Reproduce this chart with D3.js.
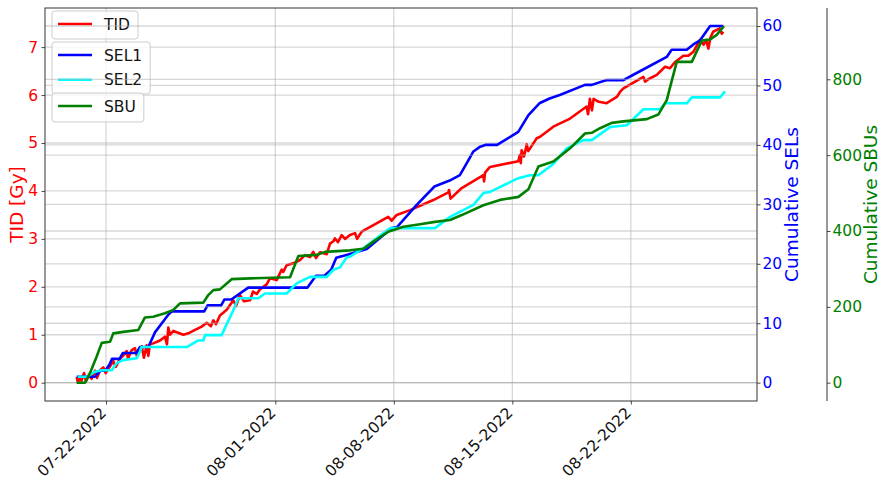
<!DOCTYPE html>
<html>
<head>
<meta charset="utf-8">
<script src="https://cdn.jsdelivr.net/npm/d3@7"></script>
<style>
  body { margin: 0; background: #fff; }
  svg { display: block; font-family: "DejaVu Sans", sans-serif; }
  .domain { display: none; }
  .tick line { stroke: #333; stroke-width: 0.9; }
</style>
</head>
<body>
<div id="chart"></div>
<script>
// x values are days counted from 07-22-2022
var tidPoints = [
    [-1.73,0.12],[-1.66,0.0],[-1.55,0.1],[-1.45,0.04],[-1.3,0.2],[-1.18,0.03],[-1.0,0.16],[-0.85,0.08],
    [-0.65,0.25],[-0.53,0.1],[-0.35,0.26],[-0.16,0.32],[-0.02,0.2],[0.24,0.34],[0.43,0.45],[0.58,0.33],
    [0.83,0.5],[1.0,0.56],[1.22,0.66],[1.3,0.5],[1.52,0.68],[1.71,0.72],[1.83,0.55],[2.11,0.76],
    [2.24,0.52],[2.4,0.78],[2.5,0.56],[2.6,0.8],[2.79,0.82],[3.19,0.88],[3.48,0.96],[3.6,0.8],
    [3.68,1.15],[3.78,1.0],[3.98,1.08],[4.57,1.0],[4.86,1.03],[5.26,1.1],[5.65,1.17],[5.95,1.25],
    [6.2,1.18],[6.34,1.3],[6.5,1.22],[6.73,1.4],[7.13,1.52],[7.52,1.72],[7.68,1.6],[7.91,1.83],
    [8.15,1.7],[8.51,1.72],[8.68,1.9],[8.9,1.85],[9.1,1.95],[9.49,2.05],[9.69,2.18],[10.08,2.14],
    [10.38,2.36],[10.47,2.31],[10.67,2.45],[11.06,2.49],[11.46,2.56],[11.75,2.66],[12.05,2.62],[12.24,2.73],
    [12.4,2.6],[12.64,2.72],[13.04,2.68],[13.23,2.9],[13.43,2.95],[13.52,3.01],[13.7,2.93],[13.92,3.08],
    [14.12,3.0],[14.41,3.08],[14.71,3.12],[14.83,3.0],[15.1,3.15],[16.67,3.46],[16.87,3.38],[17.17,3.5],
    [17.96,3.6],[19.33,3.81],[20.22,3.97],[20.26,4.02],[20.35,3.84],[21.01,4.06],[22.29,4.33],[22.33,4.2],
    [22.39,4.38],[22.68,4.5],[24.35,4.62],[24.44,4.75],[24.5,4.58],[24.55,4.85],[24.69,4.72],[24.85,4.97],
    [24.94,4.83],[25.44,5.1],[25.64,5.13],[26.42,5.34],[27.41,5.51],[28.39,5.76],[28.47,5.6],[28.58,5.92],
    [28.7,5.68],[28.8,5.92],[29.1,5.86],[29.57,5.83],[30.17,5.96],[30.37,6.07],[30.56,6.14],[31.74,6.38],
    [31.84,6.28],[32.03,6.33],[32.53,6.42],[33.02,6.59],[33.31,6.56],[33.61,6.69],[34.1,6.82],[34.39,6.82],
    [34.69,6.9],[35.08,7.15],[35.3,7.05],[35.45,7.15],[35.58,6.97],[35.7,7.2],[35.86,7.32],[36.25,7.39],
    [36.37,7.28],[36.46,7.32]
];

var sel1Points = [
    [-1.73,1],[-0.65,1],[-0.35,2],[-0.05,2],[0.2,3],[0.35,4],[0.8,4],[1.0,5],[1.8,5],[2.0,6],[2.5,6],
    [2.9,8.5],[3.3,10],[3.7,11.5],[3.9,12],[5.8,12],[6.0,13],[6.8,13],[7.0,14],[7.4,14],[8.4,16],
    [11.9,16],[12.4,18],[12.9,18],[13.3,19],[13.6,21],[14.2,21.5],[14.8,22],[15.4,22.5],[16.87,26],
    [17.2,26.2],[18.35,29.9],[19.4,33],[20.3,34],[20.9,34.9],[21.3,36.9],[21.7,38.9],[22.1,39.7],
    [22.4,40],[23.1,40],[24.35,42.2],[24.95,45],[25.6,47],[26.2,47.8],[26.8,48.4],[28.29,50.1],
    [28.69,50.1],[29.57,50.9],[30.56,50.9],[31.15,51.8],[33.12,54.8],[33.41,56],[34.3,56],[34.69,56.9],
    [35.09,57.6],[35.68,60],[36.46,60]
];

var sel2Points = [
    [-1.67,1],[-1.14,1],[-0.65,1.85],[-0.25,2.1],[0.34,2.1],[0.63,3.3],[1.02,3.8],[1.81,4.1],[2.0,5.2],
    [2.1,6],[4.77,6],[5.45,7.1],[5.75,7.1],[5.85,8],[6.83,8],[7.52,12.2],[7.81,14.2],[9.0,14.2],[9.39,15],
    [10.67,15],[11.26,16.7],[12.05,17.8],[13.04,17.8],[13.43,19],[13.82,19.4],[14.22,21.1],[14.41,21.2],
    [15.3,22.8],[16.78,26],[19.43,26],[20.32,27.9],[21.7,29.9],[22.29,31.9],[22.68,32.1],[24.35,34.4],
    [25.04,34.9],[25.53,34.9],[26.42,36.8],[27.21,39.4],[28.19,40.8],[28.69,40.8],[29.77,43],[30.76,43.3],
    [31.74,46],[32.72,46],[33.02,47],[34.3,47],[34.6,48],[36.27,48],[36.56,49]
];

var sbuPoints = [
    [-1.73,0],[-1.24,0],[-0.95,25],[-0.55,69],[-0.25,105],[0.24,108],[0.43,130],[1.02,134],[1.91,139],
    [2.3,172],[2.79,174],[3.48,183],[3.98,192],[4.37,209],[5.75,211],[6.04,231],[6.34,244],[6.73,246],
    [7.42,273],[8.51,275],[10.87,278],[11.36,334],[12.45,337],[12.94,345],[14.41,349],[15.2,353],
    [15.79,372],[16.67,398],[17.56,411],[18.55,418],[19.43,424],[20.32,429],[21.01,442],[22.29,468],
    [23.27,482],[24.36,490],[24.95,510],[25.54,570],[25.93,576],[26.42,583],[27.41,618],[28.29,657],
    [28.69,659],[29.18,671],[29.87,685],[30.56,689],[31.94,695],[32.62,707],[33.12,745],[33.41,795],
    [33.71,846],[34.6,846],[35.19,902],[35.68,905],[36.07,917],[36.5,940]
];

var xTickLabels = ["07-22-2022", "08-01-2022", "08-08-2022", "08-15-2022", "08-22-2022"];
var tidTicks = [0, 1, 2, 3, 4, 5, 6, 7];
var selTicks = [0, 10, 20, 30, 40, 50, 60];
var sbuTicks = [0, 200, 400, 600, 800];

var width = 881, height = 482;
var margin = {top: 8, right: 124, bottom: 81, left: 45};
var plotW = width - margin.left - margin.right,
    plotH = height - margin.top - margin.bottom;

var parseDate = d3.utcParse("%m-%d-%Y"),
    fmtDate = d3.utcFormat("%m-%d-%Y"),
    baseDate = parseDate("07-22-2022");

function dayToDate(d) {
    return new Date(baseDate.getTime() + d * 864e5);
}

var x = d3.scaleUtc()
    .domain([dayToDate(-3.603), dayToDate(38.45)])
    .range([0, plotW]);

var yTid = d3.scaleLinear().domain([-0.382, 7.816]).range([plotH, 0]);
var ySel = d3.scaleLinear().domain([-3.08, 63.03]).range([plotH, 0]);
var ySbu = d3.scaleLinear().domain([-48.3, 988]).range([plotH, 0]);

var svg = d3.select("#chart").append("svg")
    .attr("width", width)
    .attr("height", height);

svg.append("rect").attr("width", width).attr("height", height).attr("fill", "#fff");

var g = svg.append("g")
    .attr("transform", "translate(" + margin.left + "," + margin.top + ")");

var gridColor = "#b0b0b0";

function hGrid(scale, ticks) {
    g.append("g").selectAll("line")
        .data(ticks)
        .join("line")
        .attr("x1", 0).attr("x2", plotW)
        .attr("y1", d => scale(d)).attr("y2", d => scale(d))
        .attr("stroke", gridColor)
        .attr("stroke-opacity", 0.5)
        .attr("stroke-width", 1.3);
}

function drawLine(points, scale, color) {
    var line = d3.line()
        .x(d => x(dayToDate(d[0])))
        .y(d => scale(d[1]));
    g.append("path")
        .datum(points)
        .attr("d", line)
        .attr("fill", "none")
        .attr("stroke", color)
        .attr("stroke-width", 2.6)
        .attr("stroke-linejoin", "round");
}

function drawLegend(items, top, h) {
    var lg = g.append("g").attr("transform", "translate(7," + top + ")");
    var box = lg.append("rect")
        .attr("x", 0).attr("y", 0)
        .attr("height", h)
        .attr("rx", 3)
        .attr("fill", "#fff")
        .attr("fill-opacity", 0.8)
        .attr("stroke", "#cccccc");
    var maxW = 0;
    items.forEach(function(it, i) {
        var cy = 13 + i * 24.8;
        lg.append("line")
            .attr("x1", 6).attr("x2", 40)
            .attr("y1", cy).attr("y2", cy)
            .attr("stroke", it.color)
            .attr("stroke-width", 2.6);
        var t = lg.append("text")
            .attr("x", 52).attr("y", cy)
            .attr("dy", "0.36em")
            .attr("font-size", "15.5px")
            .attr("fill", "#111")
            .text(it.name);
        maxW = Math.max(maxW, t.node().getComputedTextLength());
    });
    box.attr("width", 52 + maxW + 8);
}

// ---- ax1: TID ----
g.append("g").selectAll("line")
    .data(xTickLabels)
    .join("line")
    .attr("x1", d => x(parseDate(d))).attr("x2", d => x(parseDate(d)))
    .attr("y1", 0).attr("y2", plotH)
    .attr("stroke", gridColor)
    .attr("stroke-opacity", 0.5)
    .attr("stroke-width", 1.3);
hGrid(yTid, tidTicks);
drawLine(tidPoints, yTid, "red");
drawLegend([{name: "TID", color: "red"}], 3, 28);

// ---- ax2: SEL ----
hGrid(ySel, selTicks);
drawLine(sel1Points, ySel, "blue");
drawLine(sel2Points, ySel, "cyan");
drawLegend([{name: "SEL1", color: "blue"}, {name: "SEL2", color: "cyan"}], 34, 52);

// ---- ax3: SBU ----
hGrid(ySbu, sbuTicks);
drawLine(sbuPoints, ySbu, "green");
drawLegend([{name: "SBU", color: "green"}], 85, 29);

// frame
g.append("rect")
    .attr("width", plotW).attr("height", plotH)
    .attr("fill", "none")
    .attr("stroke", "#333")
    .attr("stroke-width", 1);

// axes
function styleTicks(sel, color) {
    sel.attr("font-family", null).attr("font-size", null);
    sel.selectAll("text")
        .attr("font-size", "15.5px")
        .attr("fill", color);
}

var xAxis = g.append("g")
    .attr("transform", "translate(0," + plotH + ")")
    .call(d3.axisBottom(x)
        .tickValues(xTickLabels.map(parseDate))
        .tickFormat(fmtDate)
        .tickSize(3.5));
styleTicks(xAxis, "#111");
xAxis.selectAll("text")
    .attr("x", 0).attr("y", 0).attr("dy", "0.35em")
    .attr("text-anchor", "end")
    .attr("transform", "translate(-3,9) rotate(-45)");

var leftAxis = g.append("g")
    .call(d3.axisLeft(yTid).tickValues(tidTicks).tickSize(3.5).tickPadding(3.5));
styleTicks(leftAxis, "red");

var selAxis = g.append("g")
    .attr("transform", "translate(" + plotW + ",0)")
    .call(d3.axisRight(ySel).tickValues(selTicks).tickSize(3.5).tickPadding(2));
styleTicks(selAxis, "blue");

var sbuX = plotW + 70;
var sbuAxis = g.append("g")
    .attr("transform", "translate(" + sbuX + ",0)")
    .call(d3.axisRight(ySbu).tickValues(sbuTicks).tickSize(3.5).tickPadding(2));
styleTicks(sbuAxis, "green");
g.append("line")
    .attr("x1", sbuX).attr("x2", sbuX)
    .attr("y1", 0).attr("y2", plotH)
    .attr("stroke", "#333").attr("stroke-width", 1);

// axis titles
function axisTitle(text, cx, color) {
    svg.append("text")
        .attr("transform", "translate(" + cx + "," + (margin.top + plotH / 2) + ") rotate(-90)")
        .attr("text-anchor", "middle")
        .attr("font-size", "18.5px")
        .attr("fill", color)
        .text(text);
}
axisTitle("TID [Gy]", 23, "red");
axisTitle("Cumulative SELs", 798, "blue");
axisTitle("Cumulative SBUs", 877, "green");
</script>
</body>
</html>
